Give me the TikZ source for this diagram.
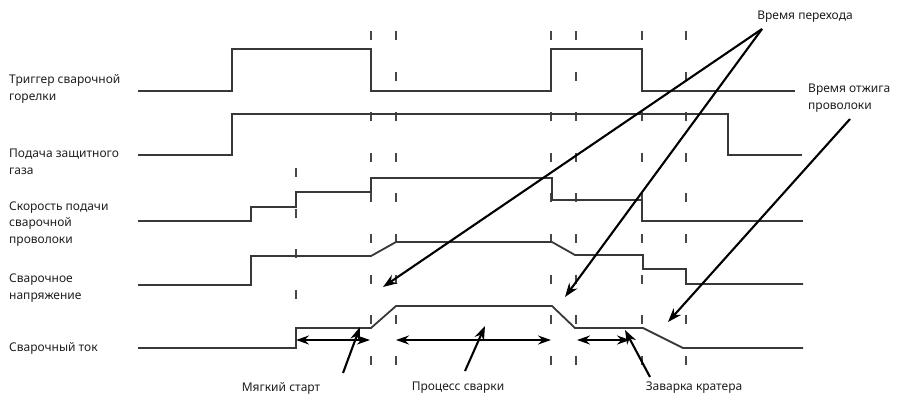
\documentclass[tikz,border=0pt]{standalone}
\usepackage{fontspec}
\setmainfont{Noto Sans}
\usepackage{tikz}
\usetikzlibrary{arrows.meta, positioning}

\tikzset{
  sig/.style={draw=black!78, line width=1.8pt, line join=miter},
  tmark/.style={draw=black!72, line width=1.5pt, dash pattern=on 9pt off 31.6pt},
  ptr/.style={-{Stealth[length=14pt, width=10pt]}, line width=2.1pt},
  span/.style={{Stealth[length=13pt, width=9pt]}-{Stealth[length=13pt, width=9pt]}, line width=1.8pt},
  lbl/.style={anchor=west, align=left, inner sep=0pt, font=\fontsize{12}{16.5}\selectfont, text=black!88},
  note/.style={inner sep=0pt, font=\fontsize{12}{14}\selectfont, text=black!88}
}

\begin{document}
\begin{tikzpicture}[x=1pt, y=-1pt]
\useasboundingbox (0,0) rectangle (899,397);
\foreach \t in {371, 396, 551, 576, 642, 686}
  \draw[tmark] (\t,31) -- (\t,367);
\draw[tmark] (296,168) -- (296,304);
\draw[sig] (138,91) -- (232,91) -- (232,49) -- (371,49) -- (371,91) -- (551,91) -- (551,49) -- (642,49) -- (642,91) -- (795,91);
\draw[sig] (138,155) -- (232,155) -- (232,114) -- (728,114) -- (728,155) -- (802,155);
\draw[sig] (138,221) -- (251,221) -- (251,207) -- (296,207) -- (296,192) -- (371,192) -- (371,178) -- (552,178) -- (552,200) -- (642,200) -- (642,221) -- (803,221);
\draw[sig] (138,285) -- (251,285) -- (251,256) -- (371,256) -- (396,242) -- (552,242) -- (575,255) -- (643,255) -- (643,269) -- (686,269) -- (686,284) -- (803,284);
\draw[sig] (138,348) -- (296,348) -- (296,328) -- (371,328) -- (396,306) -- (552,306) -- (575,328) -- (643,328) -- (683,348) -- (803,348);
\node[lbl] (trig) at (9,89) {Триггер сварочной\\горелки};
\node[lbl] (gas) at (9,162) {Подача защитного\\газа};
\node[lbl] (wire) at (9,224) {Скорость подачи\\сварочной\\проволоки};
\node[lbl] (volt) at (9,288) {Сварочное\\напряжение};
\node[lbl] (curr) at (9,348) {Сварочный ток};
\node[note] (trans) at (805,17) {Время перехода};
\node[lbl] (burn) at (808,98) {Время отжига\\проволоки};
\node[note] (soft) at (281,388) {Мягкий старт};
\node[note] (weld) at (458,388) {Процесс сварки};
\node[note] (crater) at (694,388) {Заварка кратера};
\coordinate (transP) at (762,29);
\coordinate (voltT) at (383,287);
\coordinate (currT) at (565,297);
\coordinate (burnP) at (850,119);
\coordinate (burnT) at (668,322);
\coordinate (softP) at (343,373);
\coordinate (softT) at (360,327);
\coordinate (weldP) at (465,371);
\coordinate (weldT) at (485,326);
\coordinate (craterP) at (650,377);
\coordinate (craterT) at (625,330);
\coordinate (s1) at (296,340);
\coordinate (e1) at (370,340);
\coordinate (s2) at (396,340);
\coordinate (e2) at (551,340);
\coordinate (s3) at (577,340);
\coordinate (e3) at (630,340);
\draw[span] (s1) -- (e1);
\draw[span] (s2) -- (e2);
\draw[span] (s3) -- (e3);
\draw[ptr] (transP) -- (voltT);
\draw[ptr] (transP) -- (currT);
\draw[ptr] (burnP) -- (burnT);
\draw[ptr] (softP) -- (softT);
\draw[ptr] (weldP) -- (weldT);
\draw[ptr] (craterP) -- (craterT);
\end{tikzpicture}
\end{document}
